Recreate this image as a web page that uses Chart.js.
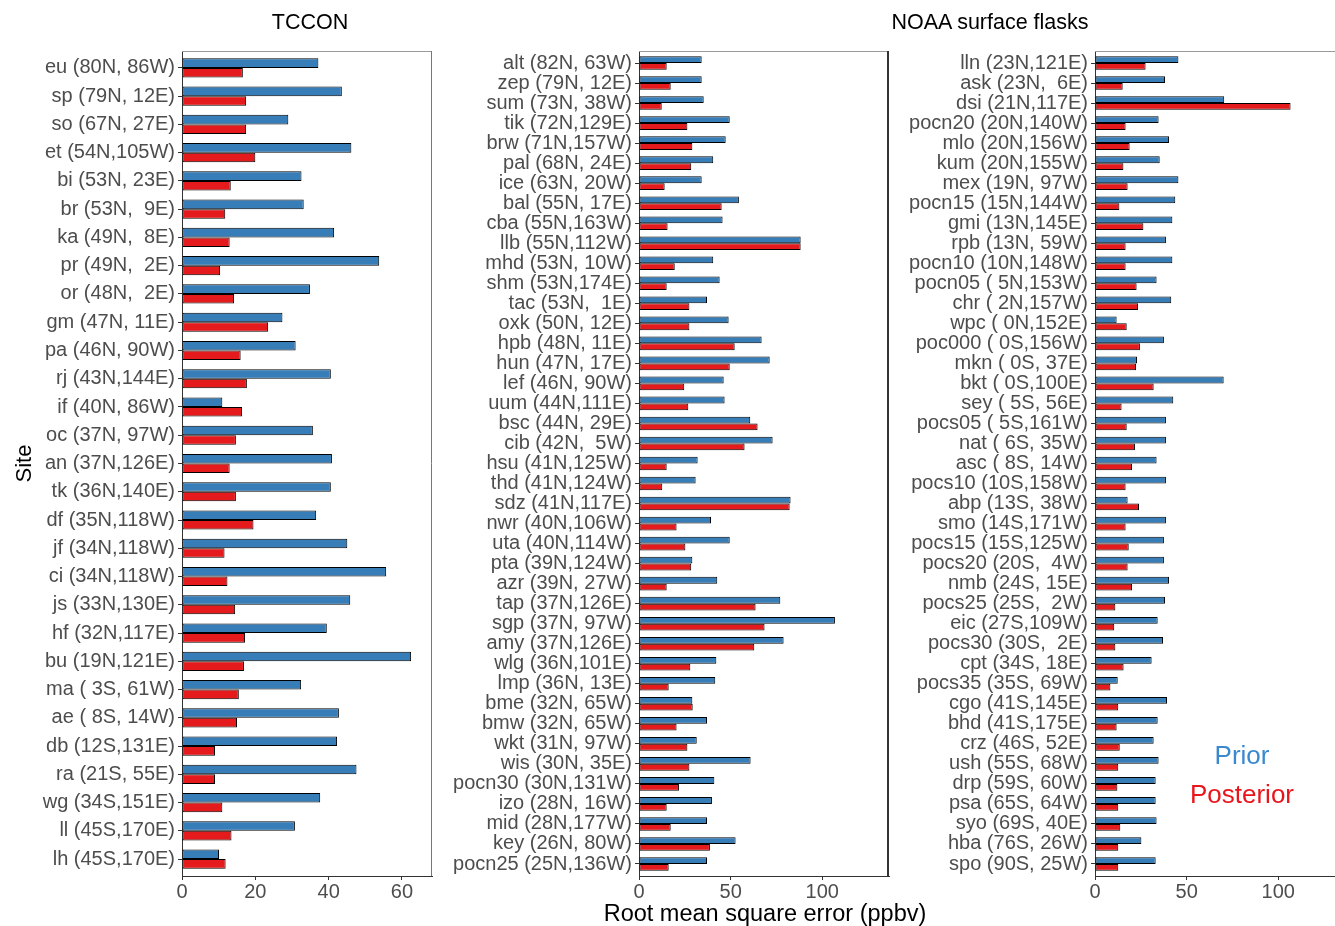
<!DOCTYPE html>
<html>
<head>
<meta charset="utf-8">
<script src="https://cdn.jsdelivr.net/npm/chart.js@4.4.1/dist/chart.umd.min.js"></script>
<style>
  html, body { margin: 0; padding: 0; background: #fff; overflow: hidden; }
  body { width: 1335px; height: 926px; position: relative; font-family: 'Liberation Sans', Arial, sans-serif; }
  canvas { position: absolute; top: 0; }
  .txt { position: absolute; transform: translate(-50%, -50%); white-space: pre; line-height: 1; }
</style>
</head>
<body>
<canvas id="tccon" width="440" height="926" style="left:0px"></canvas>
<canvas id="noaaA" width="460" height="926" style="left:440px"></canvas>
<canvas id="noaaB" width="445" height="926" style="left:900px"></canvas>

<div class="txt" style="left:310px; top:23px; font-size:21.5px; color:#000;">TCCON</div>
<div class="txt" style="left:990px; top:23px; font-size:21.5px; color:#000;">NOAA surface flasks</div>
<div class="txt" style="left:765px; top:914px; font-size:23.5px; color:#000;">Root mean square error (ppbv)</div>
<div class="txt" style="left:1242px; top:755px; font-size:26px; color:#3a89cf;">Prior</div>
<div class="txt" style="left:1242px; top:794px; font-size:26px; color:#e8161c;">Posterior</div>

<script>
// ---- TCCON sites ----
const tcconSites = [
  "eu (80N, 86W)", "sp (79N, 12E)", "so (67N, 27E)", "et (54N,105W)", "bi (53N, 23E)",
  "br (53N,  9E)", "ka (49N,  8E)", "pr (49N,  2E)", "or (48N,  2E)", "gm (47N, 11E)",
  "pa (46N, 90W)", "rj (43N,144E)", "if (40N, 86W)", "oc (37N, 97W)", "an (37N,126E)",
  "tk (36N,140E)", "df (35N,118W)", "jf (34N,118W)", "ci (34N,118W)", "js (33N,130E)",
  "hf (32N,117E)", "bu (19N,121E)", "ma ( 3S, 61W)", "ae ( 8S, 14W)", "db (12S,131E)",
  "ra (21S, 55E)", "wg (34S,151E)", "ll (45S,170E)", "lh (45S,170E)"
];
const tcconPrior = [
  37.2, 43.6, 29.0, 46.2, 32.6, 33.2, 41.5, 53.8, 34.9, 27.4,
  31.0, 40.6, 11.0, 35.7, 40.9, 40.6, 36.6, 45.1, 55.7, 45.9,
  39.5, 62.5, 32.5, 42.8, 42.3, 47.6, 37.7, 30.8, 10.1
];
const tcconPosterior = [
  16.6, 17.5, 17.5, 20.0, 13.3, 11.8, 13.0, 10.4, 14.2, 23.5,
  16.0, 17.7, 16.4, 14.7, 13.0, 14.7, 19.5, 11.6, 12.4, 14.5,
  17.2, 16.9, 15.5, 15.0, 9.0, 9.0, 11.0, 13.5, 11.9
];
const tcconTicks = [0, 20, 40, 60];

// ---- NOAA surface flask sites, northern list ----
const noaaSitesA = [
  "alt (82N, 63W)", "zep (79N, 12E)", "sum (73N, 38W)", "tik (72N,129E)", "brw (71N,157W)",
  "pal (68N, 24E)", "ice (63N, 20W)", "bal (55N, 17E)", "cba (55N,163W)", "llb (55N,112W)",
  "mhd (53N, 10W)", "shm (53N,174E)", "tac (53N,  1E)", "oxk (50N, 12E)", "hpb (48N, 11E)",
  "hun (47N, 17E)", "lef (46N, 90W)", "uum (44N,111E)", "bsc (44N, 29E)", "cib (42N,  5W)",
  "hsu (41N,125W)", "thd (41N,124W)", "sdz (41N,117E)", "nwr (40N,106W)", "uta (40N,114W)",
  "pta (39N,124W)", "azr (39N, 27W)", "tap (37N,126E)", "sgp (37N, 97W)", "amy (37N,126E)",
  "wlg (36N,101E)", "lmp (36N, 13E)", "bme (32N, 65W)", "bmw (32N, 65W)", "wkt (31N, 97W)",
  "wis (30N, 35E)", "pocn30 (30N,131W)", "izo (28N, 16W)", "mid (28N,177W)", "key (26N, 80W)",
  "pocn25 (25N,136W)"
];
const noaaPriorA = [
  34.2, 34.2, 35.3, 49.5, 47.3, 40.5, 34.2, 54.5, 45.6, 88.2,
  40.5, 44.0, 37.1, 48.9, 66.9, 71.3, 46.2, 46.7, 60.7, 72.9,
  32.0, 30.9, 82.7, 39.3, 49.5, 29.1, 42.7, 77.1, 106.9, 78.9,
  42.2, 41.6, 29.1, 37.1, 31.5, 60.9, 41.1, 39.8, 37.1, 52.7,
  37.1
];
const noaaPosteriorA = [
  15.1, 17.3, 12.4, 26.4, 29.1, 28.5, 14.0, 45.1, 15.6, 88.2,
  19.5, 15.1, 27.5, 27.5, 52.2, 49.5, 24.7, 26.9, 64.7, 57.6,
  15.1, 12.7, 82.2, 20.5, 25.3, 28.5, 15.1, 63.6, 68.5, 62.9,
  28.0, 16.2, 29.3, 20.5, 26.4, 27.5, 21.8, 15.1, 17.3, 38.7,
  16.2
];

// ---- NOAA surface flask sites, southern list ----
const noaaSitesB = [
  "lln (23N,121E)", "ask (23N,  6E)", "dsi (21N,117E)", "pocn20 (20N,140W)", "mlo (20N,156W)",
  "kum (20N,155W)", "mex (19N, 97W)", "pocn15 (15N,144W)", "gmi (13N,145E)", "rpb (13N, 59W)",
  "pocn10 (10N,148W)", "pocn05 ( 5N,153W)", "chr ( 2N,157W)", "wpc ( 0N,152E)", "poc000 ( 0S,156W)",
  "mkn ( 0S, 37E)", "bkt ( 0S,100E)", "sey ( 5S, 56E)", "pocs05 ( 5S,161W)", "nat ( 6S, 35W)",
  "asc ( 8S, 14W)", "pocs10 (10S,158W)", "abp (13S, 38W)", "smo (14S,171W)", "pocs15 (15S,125W)",
  "pocs20 (20S,  4W)", "nmb (24S, 15E)", "pocs25 (25S,  2W)", "eic (27S,109W)", "pocs30 (30S,  2E)",
  "cpt (34S, 18E)", "pocs35 (35S, 69W)", "cgo (41S,145E)", "bhd (41S,175E)", "crz (46S, 52E)",
  "ush (55S, 68W)", "drp (59S, 60W)", "psa (65S, 64W)", "syo (69S, 40E)", "hba (76S, 26W)",
  "spo (90S, 25W)"
];
const noaaPriorB = [
  45.5, 38.2, 70.5, 34.7, 40.4, 35.3, 45.5, 43.8, 42.2, 38.7,
  42.2, 33.6, 41.6, 11.8, 37.6, 22.9, 70.2, 42.7, 38.7, 38.7,
  33.6, 38.7, 17.8, 38.7, 37.6, 37.6, 40.4, 38.2, 34.2, 37.1,
  30.9, 12.4, 39.3, 34.2, 32.0, 34.7, 33.1, 33.1, 33.6, 25.3,
  33.1
];
const noaaPosteriorB = [
  27.6, 15.1, 106.7, 16.7, 18.9, 15.5, 17.8, 13.3, 26.4, 16.7,
  16.7, 22.7, 23.5, 17.3, 24.5, 22.4, 32.0, 14.5, 17.3, 21.8,
  20.2, 16.7, 24.0, 16.7, 18.4, 17.8, 20.2, 11.1, 10.5, 11.1,
  15.6, 8.4, 12.7, 11.8, 13.5, 12.7, 12.2, 12.7, 13.8, 12.7,
  12.7
];
const noaaTicks = [0, 50, 100];

const seriesNames = ["Prior", "Posterior"];
const seriesColors = ["#377EB8", "#E41A1C"];

Chart.defaults.font.family = "'Liberation Sans', Arial, sans-serif";

// thin frame on the top and right sides of the plotting panel
function panelFrame(topColor, rightColor, rightWidth) {
  return {
    id: 'panelFrame',
    afterDraw(chart) {
      const { ctx, chartArea: a } = chart;
      ctx.save();
      ctx.lineWidth = 1;
      ctx.strokeStyle = topColor;
      ctx.beginPath();
      ctx.moveTo(a.left, a.top + 0.5);
      ctx.lineTo(a.right, a.top + 0.5);
      ctx.stroke();
      ctx.lineWidth = rightWidth;
      ctx.strokeStyle = rightColor;
      ctx.beginPath();
      ctx.moveTo(a.right - rightWidth / 2, a.top);
      ctx.lineTo(a.right - rightWidth / 2, a.bottom);
      ctx.stroke();
      ctx.restore();
    }
  };
}

function buildPanel(id, sites, prior, posterior, xMax, xTicks, axisWidth, rightPad, showSiteTitle, frame) {
  const n = sites.length;
  const asPoints = vals => vals.map((v, i) => ({ x: v, y: i + 1 }));
  const values = [prior, posterior];
  return new Chart(document.getElementById(id), {
    type: 'bar',
    data: {
      datasets: values.map((vals, k) => ({
        label: seriesNames[k],
        data: asPoints(vals),
        backgroundColor: seriesColors[k],
        borderColor: '#000',
        borderWidth: 1,
        borderSkipped: false,
        categoryPercentage: 0.68,
        barPercentage: 1.0
      }))
    },
    options: {
      indexAxis: 'y',
      responsive: false,
      animation: false,
      events: [],
      layout: { padding: { top: 51, bottom: 0, left: 0, right: rightPad } },
      plugins: { legend: { display: false }, tooltip: { enabled: false }, title: { display: false } },
      scales: {
        x: {
          type: 'linear',
          position: 'bottom',
          min: 0,
          max: xMax,
          afterBuildTicks: axis => { axis.ticks = xTicks.map(v => ({ value: v })); },
          afterFit: s => { s.height = 50; },
          grid: { drawOnChartArea: false, drawTicks: true, tickLength: 4, tickColor: '#333', tickWidth: 1 },
          border: { display: true, color: '#333', width: 1 },
          ticks: { color: '#4d4d4d', font: { size: 20 }, padding: 0, maxRotation: 0, autoSkip: false }
        },
        y: {
          type: 'linear',
          position: 'left',
          reverse: true,
          offset: false,
          min: 0.4,
          max: n + 0.6,
          afterBuildTicks: axis => { axis.ticks = sites.map((_, i) => ({ value: i + 1 })); },
          afterFit: s => { s.width = axisWidth; },
          grid: { offset: false, drawOnChartArea: false, drawTicks: true, tickLength: 4, tickColor: '#333', tickWidth: 1 },
          border: { display: true, color: '#333', width: 1 },
          ticks: {
            color: '#4d4d4d',
            font: { size: 20 },
            padding: 3,
            autoSkip: false,
            callback: v => sites[Math.round(v) - 1]
          },
          title: {
            display: showSiteTitle,
            text: 'Site',
            color: '#000',
            font: { size: 22 },
            padding: { top: 12, bottom: 0 }
          }
        }
      }
    },
    plugins: [frame]
  });
}

buildPanel('tccon', tcconSites, tcconPrior, tcconPosterior, 68.2, tcconTicks, 182, 8, true,
  panelFrame('#9a9a9a', '#777', 1));
buildPanel('noaaA', noaaSitesA, noaaPriorA, noaaPosteriorA, 136.4, noaaTicks, 199, 11, false,
  panelFrame('#9a9a9a', '#333', 2));
buildPanel('noaaB', noaaSitesB, noaaPriorB, noaaPosteriorB, 136.4, noaaTicks, 195, 0, false,
  panelFrame('#9a9a9a', '#333', 2));
</script>
</body>
</html>
